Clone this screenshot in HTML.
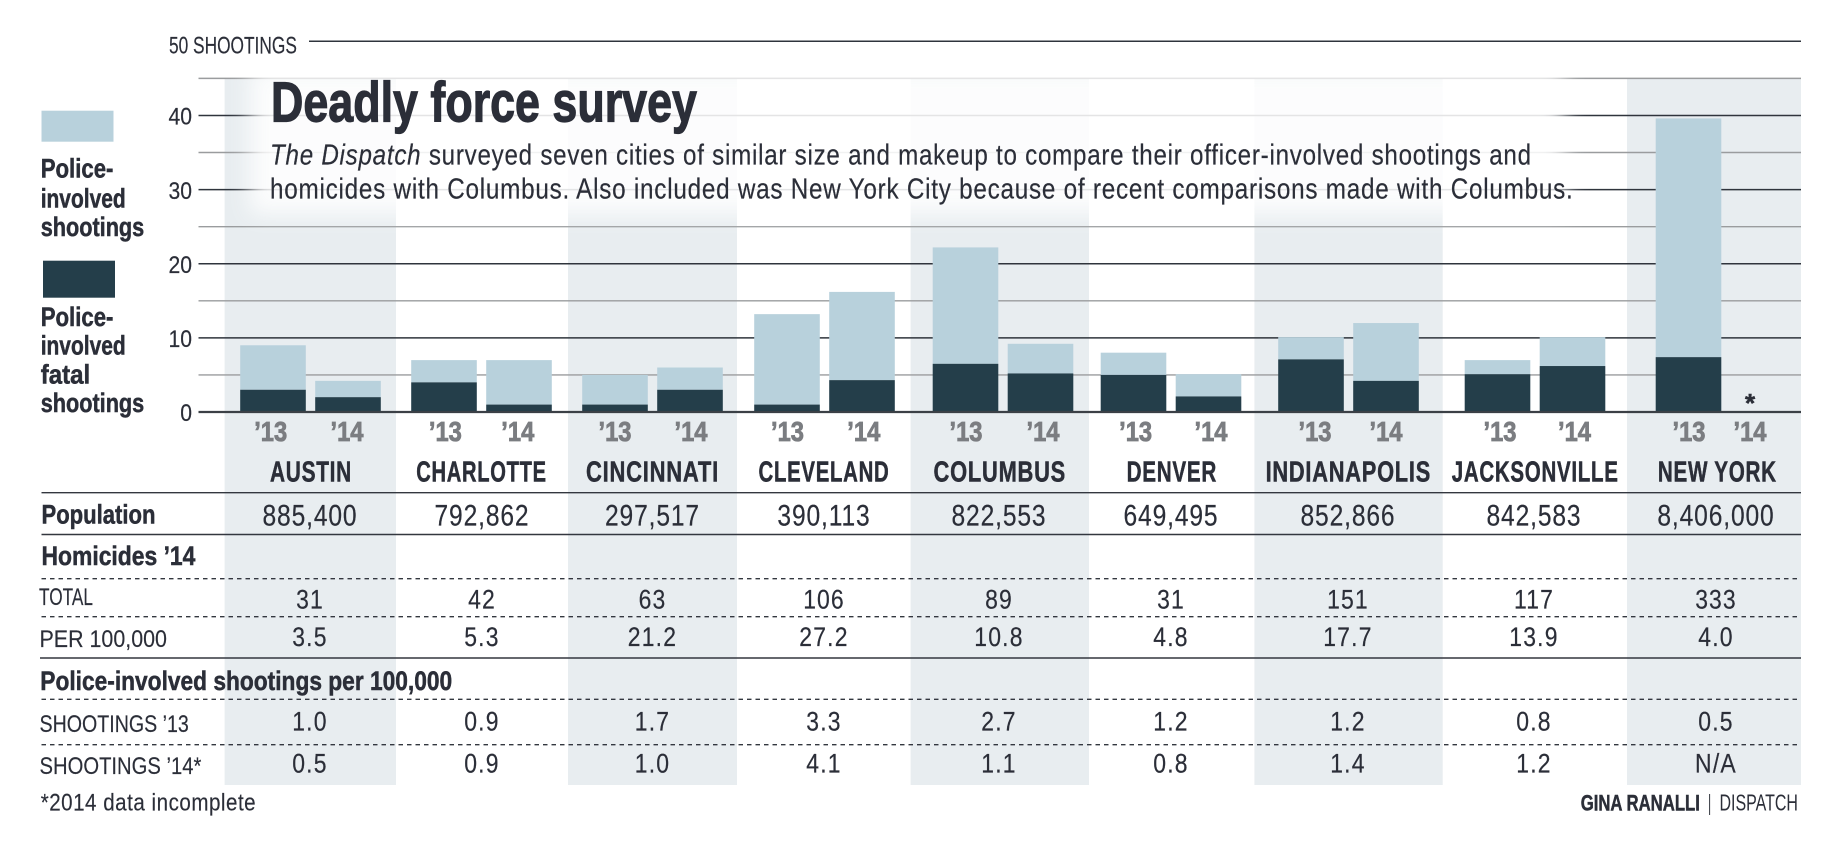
<!DOCTYPE html>
<html lang="en">
<head>
<meta charset="utf-8">
<title>Deadly force survey</title>
<style>
html,body{margin:0;padding:0;background:#fff;width:1844px;height:848px;overflow:hidden}
svg{display:block}
text{font-family:"Liberation Sans",Arial,sans-serif;fill:#2b2e38}
.b{font-weight:700;stroke:#2b2e38;stroke-width:.5px}
.lbl{font-size:24px;stroke:#2b2e38;stroke-width:.15px}
.hd{font-size:27px}
.city{letter-spacing:1px}
.desc{letter-spacing:.9px;stroke:#2b2e38;stroke-width:.2px}
.val{stroke:#2b2e38;stroke-width:.2px}
</style>
</head>
<body>
<svg id="chart" xmlns="http://www.w3.org/2000/svg" width="1844" height="848" viewBox="0 0 1844 848">
<defs>
<filter id="soft" filterUnits="userSpaceOnUse" x="150" y="20" width="1550" height="260">
<feGaussianBlur stdDeviation="11"/>
</filter>
</defs>
<g fill="#e8edf0">
<rect x="224.6" y="78" width="171.4" height="707"/>
<rect x="568" y="78" width="169" height="707"/>
<rect x="910.6" y="78" width="178.4" height="707"/>
<rect x="1254.4" y="78" width="188.3" height="707"/>
<rect x="1627" y="78" width="174" height="707"/>
</g>
<g id="grid"></g>
<rect x="250" y="68" width="1315" height="146" fill="#fff" opacity=".87" filter="url(#soft)"/>
<g id="bars"></g>
<g id="ticks"></g>
<g id="years"></g>
<g id="table"></g>

<text class="lbl" x="169" y="53.3" data-w="128">50 SHOOTINGS</text>
<text x="271" y="121.7" font-size="57" font-weight="700" style="stroke:#2b2e38;stroke-width:1.2px" data-w="426">Deadly force survey</text>
<text class="desc" x="270" y="164.3" font-size="29" data-w="1262"><tspan font-style="italic">The Dispatch</tspan> surveyed seven cities of similar size and makeup to compare their officer-involved shootings and</text>
<text class="desc" x="270" y="198.3" font-size="29" data-w="1304">homicides with Columbus. Also included was New York City because of recent comparisons made with Columbus.</text>

<g>
<rect x="41.5" y="110.7" width="72" height="31" fill="#b8d1dc"/>
<text class="b hd" x="40.7" y="177.7" data-w="72.8">Police-</text>
<text class="b hd" x="40.7" y="207.3" data-w="85">involved</text>
<text class="b hd" x="40.7" y="236" data-w="103.6">shootings</text>
<rect x="43" y="260.7" width="72" height="37" fill="#243e4a"/>
<text class="b hd" x="40.7" y="326" data-w="72.8">Police-</text>
<text class="b hd" x="40.7" y="354.5" data-w="85">involved</text>
<text class="b hd" x="40.7" y="383.3" data-w="49.5">fatal</text>
<text class="b hd" x="40.7" y="412" data-w="103.6">shootings</text>
</g>

<g stroke="#33373f" stroke-width="1.4">
<line x1="41.5" x2="1801" y1="492.7" y2="492.7"/>
<line x1="41.5" x2="1801" y1="534.5" y2="534.5"/>
<line x1="41.5" x2="1801" y1="578.7" y2="578.7" stroke-dasharray="4.5 4"/>
<line x1="41.5" x2="1801" y1="616.7" y2="616.7" stroke-dasharray="4.5 4"/>
<line x1="40" x2="1801" y1="658" y2="658"/>
<line x1="41.5" x2="1801" y1="699.3" y2="699.3" stroke-dasharray="4.5 4"/>
<line x1="41.5" x2="1801" y1="744.7" y2="744.7" stroke-dasharray="4.5 4"/>
</g>

<text class="b hd" x="41.5" y="523.5" data-w="114">Population</text>
<text class="b hd" x="41.5" y="565" data-w="154">Homicides ’14</text>
<text class="lbl" x="39" y="605" data-w="54">TOTAL</text>
<text class="lbl" x="39.5" y="647" data-w="127.5">PER 100,000</text>
<text class="b hd" x="40.3" y="690" data-w="412">Police-involved shootings per 100,000</text>
<text class="lbl" x="39.5" y="732" data-w="149.5">SHOOTINGS ’13</text>
<text class="lbl" x="39.5" y="774" data-w="162">SHOOTINGS ’14*</text>
<text class="lbl" x="40.7" y="810.7" style="letter-spacing:.6px" data-w="215.5">*2014 data incomplete</text>
<text class="b" x="1580.7" y="810.7" font-size="22" data-w="119.3">GINA RANALLI</text>
<line x1="1709.6" x2="1709.6" y1="794" y2="815" stroke="#33373f" stroke-width="1"/>
<text x="1719.5" y="810.7" font-size="23" data-w="78.5">DISPATCH</text>

<script>
const cities = ['AUSTIN','CHARLOTTE','CINCINNATI','CLEVELAND','COLUMBUS','DENVER','INDIANAPOLIS','JACKSONVILLE','NEW YORK'];
const shootings2013 = [9,7,5,13.2,22.2,8,10.1,7,39.6];
const shootings2014 = [4.2,7,6,16.2,9.2,5.1,12,10.1,null];
const fatal2013 = [3,4,1,1,6.5,5,7.1,5.1,7.4];
const fatal2014 = [2,1,3,4.3,5.2,2.1,4.2,6.2,null];
const yTickLabels = [0,10,20,30,40];
const minorGridValues = [5,15,25,35,45];
const yearLabels = ['’13','’14'];
const population = ['885,400','792,862','297,517','390,113','822,553','649,495','852,866','842,583','8,406,000'];
const homicidesTotal = ['31','42','63','106','89','31','151','117','333'];
const homicidesPer100k = ['3.5','5.3','21.2','27.2','10.8','4.8','17.7','13.9','4.0'];
const shootingRate2013 = ['1.0','0.9','1.7','3.3','2.7','1.2','1.2','0.8','0.5'];
const shootingRate2014 = ['0.5','0.9','1.0','4.1','1.1','0.8','1.4','1.2','N/A'];

const NS = 'http://www.w3.org/2000/svg';
function y(v){ return 412 - v * 7.414; }
function barGroupX(i){ return [310.5,481.5,652.5,824.5,1003,1171,1348.5,1535,1726][i]; }
function barX(i,j){ return barGroupX(i) + (j === 0 ? -37.5 : 37.5) - 32.8; }
function columnX(i){ return [310,482,652.5,824,999,1171,1348,1534,1716][i]; }
function yearX(i,j){
  const a = [270.7,445.4,615,787.5,966,1135.6,1315,1500,1689];
  const b = [347,517.8,691,863.8,1043,1211,1386,1574.5,1750];
  return j === 0 ? a[i] : b[i];
}
function cityX(i){ return [311,481.5,652.5,824,999.8,1171.8,1348.3,1535.2,1717.3][i]; }
function cityW(i){ return [82,130.5,133,131,132.5,90.5,165.5,166.8,119][i]; }

function fit(el, w){
  const x = +el.getAttribute('x'), yy = +el.getAttribute('y');
  const s = w / el.getComputedTextLength();
  el.setAttribute('transform', 'translate(' + x + ' ' + yy + ') scale(' + s + ' 1) translate(' + (-x) + ' ' + (-yy) + ')');
}
function addText(parent, name, str, x, yy, size, anchor, cls){
  const el = document.createElementNS(NS, 'text');
  
  
  el.setAttribute('x', x);
  el.setAttribute('y', yy);
  el.setAttribute('font-size', size);
  el.setAttribute('text-anchor', anchor);
  if (cls) el.setAttribute('class', cls);
  el.textContent = str;
  parent.appendChild(el);
  return el;
}
function addRule(parent, name, v, x1, stroke, width){
  const el = document.createElementNS(NS, 'line');
  
  
  el.setAttribute('x1', x1);
  el.setAttribute('x2', 1801);
  el.setAttribute('y1', y(v));
  el.setAttribute('y2', y(v));
  el.setAttribute('stroke', stroke);
  el.setAttribute('stroke-width', width);
  parent.appendChild(el);
}
function addBar(parent, name, x, from, to, fill){
  const el = document.createElementNS(NS, 'rect');
  
  
  el.setAttribute('x', x);
  el.setAttribute('y', y(to));
  el.setAttribute('width', 65.6);
  el.setAttribute('height', y(from) - y(to));
  el.setAttribute('fill', fill);
  parent.appendChild(el);
}

const grid = document.getElementById('grid');
minorGridValues.forEach(function(v){ addRule(grid, 'gridline-' + v, v, 198.5, '#9a9c9e', 1.4); });
yTickLabels.filter(function(v){ return v > 0; }).forEach(function(v){ addRule(grid, 'gridline-' + v, v, 198.5, '#2f343c', 1.5); });
addRule(grid, 'gridline-50', 50, 309, '#2f343c', 1.5);

const bars = document.getElementById('bars');
cities.forEach(function(c, i){
  const key = c.toLowerCase().replace(' ', '-');
  [[shootings2013, fatal2013], [shootings2014, fatal2014]].forEach(function(s, j){
    const total = s[0][i], fatal = s[1][i];
    if (total === null) return;
    addBar(bars, 'bar-shootings-' + key + '-' + (2013 + j), barX(i, j), fatal, total, '#b8d1dc');
    addBar(bars, 'bar-fatal-' + key + '-' + (2013 + j), barX(i, j), 0, fatal, '#243e4a');
  });
});
addRule(bars, 'x-axis-baseline', 0, 198.5, '#3b4046', 2.2);
addText(bars, 'new-york-2014-no-data-marker', '*', 1750, 412, 26, 'middle', 'b');

const ticks = document.getElementById('ticks');
yTickLabels.forEach(function(v){
  const t = addText(ticks, 'y-tick-' + v, String(v), 192, y(v) + 9.2, 24, 'end', 'val');
  t.setAttribute('transform', 'translate(192 0) scale(.88 1) translate(-192 0)');
});

const years = document.getElementById('years');
cities.forEach(function(c, i){
  yearLabels.forEach(function(lab, j){
    const t = addText(years, 'year-label', lab, yearX(i, j), 441, 28, 'middle', 'b');
    t.style.fill = '#7b7d81';
    t.style.stroke = '#7b7d81';
    t.style.strokeWidth = '.8px';
    fit(t, 33);
  });
});

const table = document.getElementById('table');
cities.forEach(function(c, i){
  const t = addText(table, 'city-label', c, cityX(i), 481.7, 29, 'middle', 'b city');
  fit(t, cityW(i));
});
function addRow(values, name, baseline, size, scale, spacing){
  values.forEach(function(v, i){
    const t = addText(table, name, v, columnX(i), baseline, size, 'middle', 'val');
    t.style.letterSpacing = spacing + 'px';
    t.setAttribute('transform', 'translate(' + columnX(i) + ' 0) scale(' + scale + ' 1) translate(' + (-columnX(i)) + ' 0)');
  });
}
addRow(population, 'population-value', 525.5, 30, .82, 1.06);
addRow(homicidesTotal, 'homicides-total-value', 608.3, 27, .85, 1.3);
addRow(homicidesPer100k, 'homicides-rate-value', 646, 27, .85, 1.45);
addRow(shootingRate2013, 'shooting-rate-2013-value', 730.7, 27, .85, 1.45);
addRow(shootingRate2014, 'shooting-rate-2014-value', 772.7, 27, .85, 1.45);

document.querySelectorAll('text[data-w]').forEach(function(el){
  fit(el, +el.getAttribute('data-w'));
});
</script>
</svg>
</body>
</html>
